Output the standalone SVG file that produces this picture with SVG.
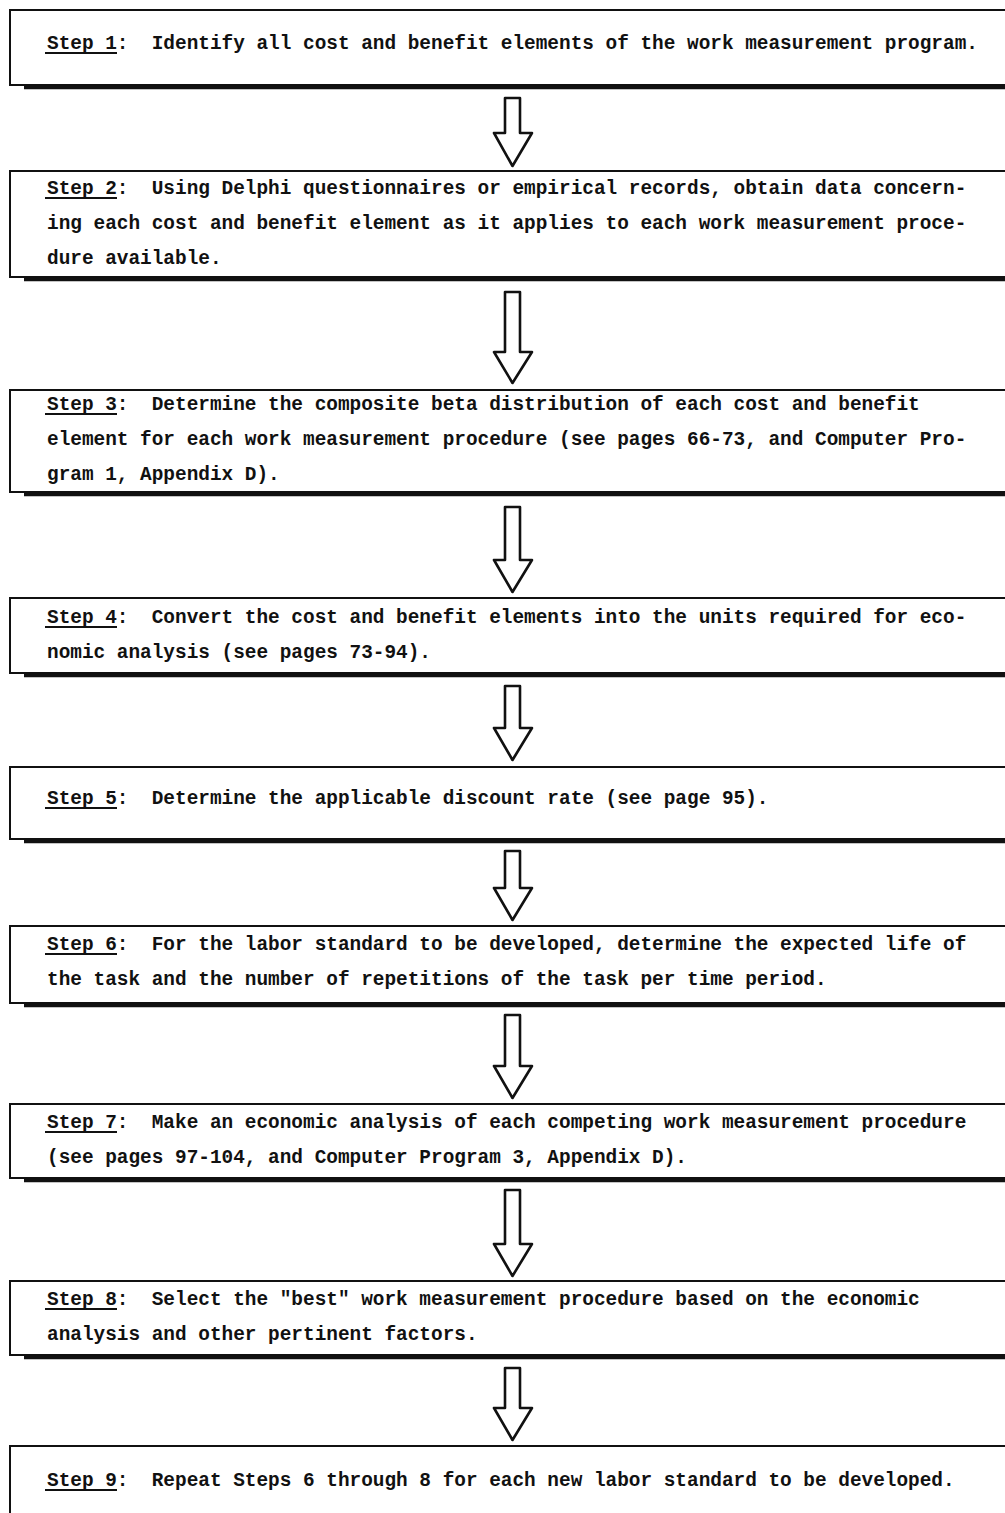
<svg xmlns="http://www.w3.org/2000/svg" width="1005" height="1513" viewBox="0 0 1005 1513">
<style>
text{font-family:"Liberation Mono","DejaVu Sans Mono",monospace;font-weight:bold;font-size:19.4px;fill:#111;white-space:pre}
.box{fill:none;stroke:#111;stroke-width:2}
.sh{stroke:#111;stroke-width:3.5}
.ul{stroke:#111;stroke-width:2}
.arr{fill:#fff;stroke:#111;stroke-width:2.6;stroke-linejoin:round}
</style>
<rect width="1005" height="1513" fill="#fff"/>
<g id="connectors">
<path class="arr" d="M505,98 H520 V133 H532 L512.5,166 L494,133 H505 Z"/>
<path class="arr" d="M505,292 H520 V352 H532 L512.5,383 L494,352 H505 Z"/>
<path class="arr" d="M505,507 H520 V560 H532 L512.5,592 L494,560 H505 Z"/>
<path class="arr" d="M505,686 H520 V728 H532 L512.5,760 L494,728 H505 Z"/>
<path class="arr" d="M505,851 H520 V888 H532 L512.5,920 L494,888 H505 Z"/>
<path class="arr" d="M505,1015 H520 V1066 H532 L512.5,1098 L494,1066 H505 Z"/>
<path class="arr" d="M505,1190 H520 V1244 H532 L512.5,1276 L494,1244 H505 Z"/>
<path class="arr" d="M505,1368 H520 V1408 H532 L512.5,1440 L494,1408 H505 Z"/>
</g>
<g id="step1">
<path class="box" d="M1005,10 H10 V85 H1005"/>
<line class="sh" x1="24" y1="87.5" x2="1005" y2="87.5"/>
<text x="47" y="49">Step 1:  Identify all cost and benefit elements of the work measurement program.</text>
<line class="ul" x1="45" y1="53" x2="117" y2="53"/>
</g>
<g id="step2">
<path class="box" d="M1005,171 H10 V277 H1005"/>
<line class="sh" x1="24" y1="279.5" x2="1005" y2="279.5"/>
<text x="47" y="194">Step 2:  Using Delphi questionnaires or empirical records, obtain data concern-</text>
<line class="ul" x1="45" y1="198" x2="117" y2="198"/>
<text x="47" y="229">ing each cost and benefit element as it applies to each work measurement proce-</text>
<text x="47" y="264">dure available.</text>
</g>
<g id="step3">
<path class="box" d="M1005,390 H10 V492 H1005"/>
<line class="sh" x1="24" y1="494.5" x2="1005" y2="494.5"/>
<text x="47" y="410">Step 3:  Determine the composite beta distribution of each cost and benefit</text>
<line class="ul" x1="45" y1="414" x2="117" y2="414"/>
<text x="47" y="445">element for each work measurement procedure (see pages 66-73, and Computer Pro-</text>
<text x="47" y="480">gram 1, Appendix D).</text>
</g>
<g id="step4">
<path class="box" d="M1005,598 H10 V673 H1005"/>
<line class="sh" x1="24" y1="675.5" x2="1005" y2="675.5"/>
<text x="47" y="623">Step 4:  Convert the cost and benefit elements into the units required for eco-</text>
<line class="ul" x1="45" y1="627" x2="117" y2="627"/>
<text x="47" y="658">nomic analysis (see pages 73-94).</text>
</g>
<g id="step5">
<path class="box" d="M1005,767 H10 V839 H1005"/>
<line class="sh" x1="24" y1="841.5" x2="1005" y2="841.5"/>
<text x="47" y="804">Step 5:  Determine the applicable discount rate (see page 95).</text>
<line class="ul" x1="45" y1="808" x2="117" y2="808"/>
</g>
<g id="step6">
<path class="box" d="M1005,926 H10 V1003 H1005"/>
<line class="sh" x1="24" y1="1005.5" x2="1005" y2="1005.5"/>
<text x="47" y="950">Step 6:  For the labor standard to be developed, determine the expected life of</text>
<line class="ul" x1="45" y1="954" x2="117" y2="954"/>
<text x="47" y="985">the task and the number of repetitions of the task per time period.</text>
</g>
<g id="step7">
<path class="box" d="M1005,1104 H10 V1178 H1005"/>
<line class="sh" x1="24" y1="1180.5" x2="1005" y2="1180.5"/>
<text x="47" y="1128">Step 7:  Make an economic analysis of each competing work measurement procedure</text>
<line class="ul" x1="45" y1="1132" x2="117" y2="1132"/>
<text x="47" y="1163">(see pages 97-104, and Computer Program 3, Appendix D).</text>
</g>
<g id="step8">
<path class="box" d="M1005,1281 H10 V1355 H1005"/>
<line class="sh" x1="24" y1="1357.5" x2="1005" y2="1357.5"/>
<text x="47" y="1305">Step 8:  Select the "best" work measurement procedure based on the economic</text>
<line class="ul" x1="45" y1="1309" x2="117" y2="1309"/>
<text x="47" y="1340">analysis and other pertinent factors.</text>
</g>
<g id="step9">
<path class="box" d="M1005,1446 H10 V1513"/>
<text x="47" y="1486">Step 9:  Repeat Steps 6 through 8 for each new labor standard to be developed.</text>
<line class="ul" x1="45" y1="1490" x2="117" y2="1490"/>
</g>
</svg>
